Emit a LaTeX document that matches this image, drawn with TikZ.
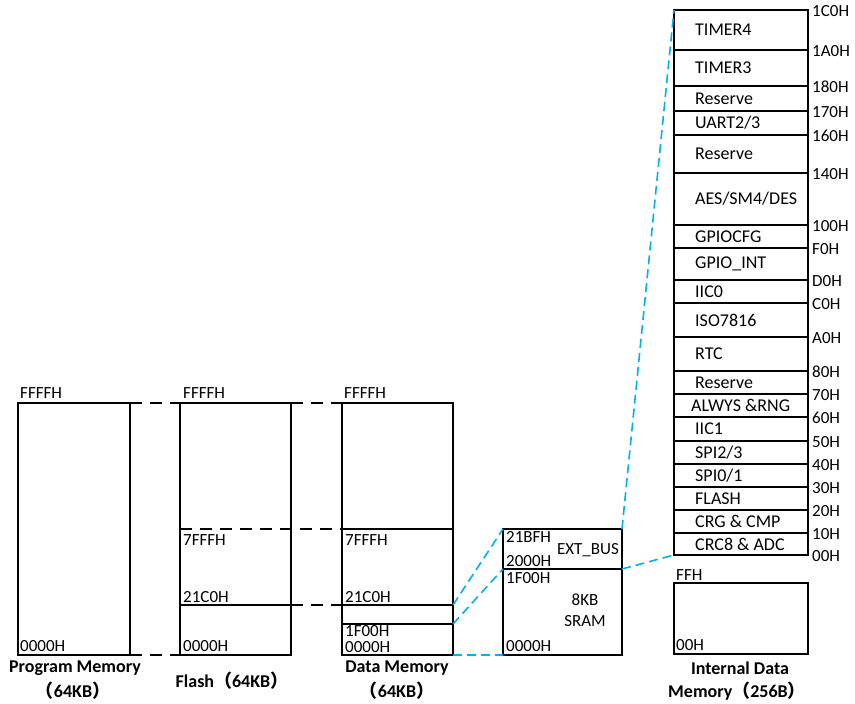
\documentclass[tikz,border=0pt]{standalone}
\usepackage{fontspec}
\setmainfont{Carlito}
\newfontfamily\cjk{Noto Sans CJK SC}
\usetikzlibrary{calc}
\definecolor{cyanline}{RGB}{0,176,240}
\newcommand{\fwl}{{\cjk （}}
\newcommand{\fwr}{{\cjk ）}}
\begin{document}
\begin{tikzpicture}[x=1pt,y=-1pt,
  box/.style={draw,line width=1.6pt,inner sep=0pt,outer sep=0pt},
  txt/.style={inner sep=0pt,font=\fontsize{17}{19}\selectfont},
  lbl/.style={txt,anchor=west},
  rtxt/.style={inner sep=0pt,anchor=west,font=\fontsize{18}{20}\selectfont},
  bl/.style={inner sep=0pt,font=\fontsize{18}{20}\selectfont\bfseries},
  bdash/.style={line width=1.6pt,dash pattern=on 12pt off 8pt},
  cdash/.style={line width=1.6pt,draw=cyanline,dash pattern=on 9pt off 5pt},
  reg/.style={box,anchor=north west,minimum width=134pt},
]
\useasboundingbox (0,0) rectangle (855,704);

% Program memory
\node[box,minimum width=112pt,minimum height=252pt] (pm) at (74,529) {};
% Flash
\node[box,minimum width=111pt,minimum height=252pt] (fl) at (235.5,529) {};
% Data memory (stacked parts)
\node[box,anchor=north west,minimum width=111pt,minimum height=126pt] (dmA) at (342,403) {};
\node[box,anchor=north west,minimum width=111pt,minimum height=76pt] (dmB) at (342,529) {};
\node[box,anchor=north west,minimum width=111pt,minimum height=19pt] (dmC) at (342,605) {};
\node[box,anchor=north west,minimum width=111pt,minimum height=31pt] (dmD) at (342,624) {};
% SRAM
\node[box,anchor=north west,minimum width=119pt,minimum height=40pt] (srt) at (503,529) {};
\node[box,anchor=north west,minimum width=119pt,minimum height=86pt] (srb) at (503,569) {};

% register column
\foreach [count=\i] \t/\a/\b/\d in {TIMER4/10/50/0, TIMER3/50/86/0, Reserve/86/111/0, {UART2/3}/111/135/0,
  Reserve/135/173/0, {AES/SM4/DES}/173/225/0, GPIOCFG/225/248/0, GPIO\_INT/248/280/0, IIC0/280/303/0,
  ISO7816/303/337/0, RTC/337/371/0, Reserve/371/394/0, {ALWYS \&RNG}/394/417/-4, IIC1/417/441/0,
  {SPI2/3}/441/464/0, {SPI0/1}/464/487/0, FLASH/487/510/0, {CRG \& CMP}/510/533/0, {CRC8 \& ADC}/533/555/0}
  {
  \node[reg,minimum height={(\b-\a)*1pt}] (r\i) at (674,\a) {};
  \node[rtxt] (rt\i) at ($(r\i.west)+(21+\d,0)$) {\t};
  }

\foreach \y/\s in {10/1C0H, 50/1A0H, 86/180H, 111/170H, 135/160H, 173/140H, 225/100H,
  248/F0H, 280/D0H, 303/C0H, 337/A0H, 371/80H, 394/70H, 417/60H, 441/50H, 464/40H,
  487/30H, 510/20H, 533/10H, 555/00H}
  \node[lbl] at (812,\y+1) {\s};

% internal data memory
\node[box,anchor=north west,minimum width=134pt,minimum height=71pt] (im) at (674,583) {};

% flash interior lines
\draw[bdash] (fl.west) -- (dmA.south west);
\draw[line width=1.6pt] (180,605) -- (291,605);
\draw[bdash] (291,605) -- (dmC.north west);
% black dashed connectors
\draw[bdash] (pm.north east) -- (fl.north west);
\draw[bdash] (pm.south east) -- (fl.south west);
\draw[bdash] (fl.north east) -- (dmA.north west);

% cyan connectors
\draw[cdash] (dmC.north east) -- (srt.north west);
\draw[cdash] (dmD.north east) -- (srt.south west);
\draw[cdash] (dmD.south east) -- (srb.south west);
\draw[cdash] (srt.north east) -- (r1.north west);
\draw[cdash] (srt.south east) -- (r19.south west);

% address texts
\node[lbl] at (20,393) {FFFFH};
\node[lbl] at (183,393) {FFFFH};
\node[lbl] at (344,393) {FFFFH};
\node[lbl] at (20,646) {0000H};
\node[lbl] at (183,646) {0000H};
\node[lbl] at (345,647.5) {0000H};
\node[lbl] at (183,540) {7FFFH};
\node[lbl] at (183,597) {21C0H};
\node[lbl] at (345,540) {7FFFH};
\node[lbl] at (345,597) {21C0H};
\node[lbl] at (345,631) {1F00H};
\node[lbl] at (506,537) {21BFH};
\node[txt] at (588,550) {EXT\_BUS};
\node[lbl] at (506,561) {2000H};
\node[lbl] at (506,578) {1F00H};
\node[txt] at (585,600) {8KB};
\node[txt] at (585,621) {SRAM};
\node[lbl] at (506,646) {0000H};
\node[lbl] at (676,575) {FFH};
\node[lbl] at (676,645) {00H};

% captions
\node[bl] at (75,668) {Program Memory};
\node[bl] at (73,691) {\fwl 64KB\fwr};
\node[bl] at (232,681) {Flash\fwl 64KB\fwr};
\node[bl] at (397,668) {Data Memory};
\node[bl] at (397,691) {\fwl 64KB\fwr};
\node[bl] at (740,668) {Internal Data};
\node[bl] at (737,691) {Memory\fwl 256B\fwr};
\end{tikzpicture}
\end{document}
